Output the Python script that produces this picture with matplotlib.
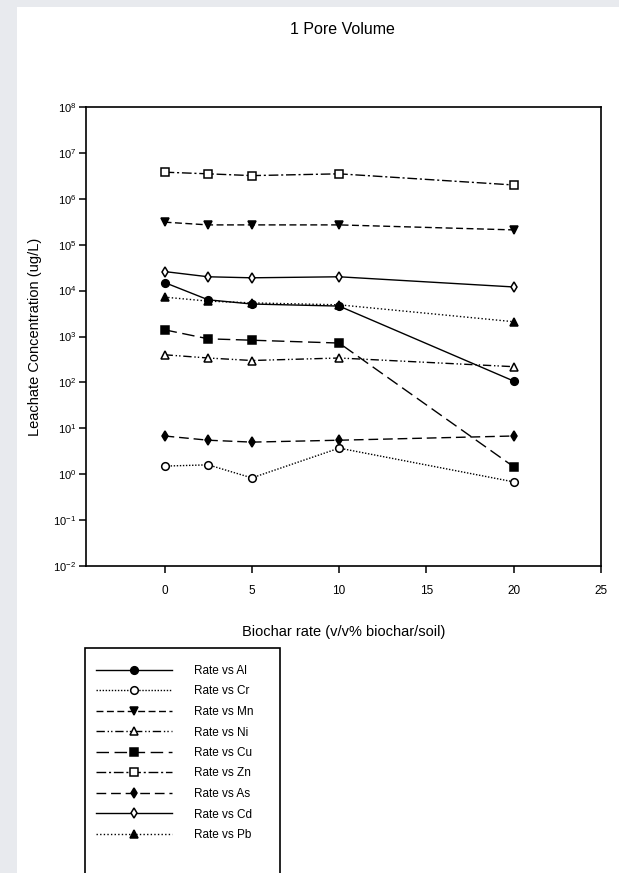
import matplotlib
matplotlib.use("Agg")
import matplotlib.pyplot as plt
from matplotlib.patches import Rectangle
from matplotlib.ticker import LogLocator, NullLocator, FixedLocator

plt.rcParams['font.family'] = ['Liberation Sans', 'DejaVu Sans']
plt.rcParams['mathtext.fontset'] = 'custom'
plt.rcParams['mathtext.rm'] = 'Liberation Sans'

rate = [0, 2.5, 5, 10, 20]
Al = [1.5e4, 6.3e3, 5.1e3, 4.6e3, 1.07e2]
Cr = [1.5, 1.6, 0.83, 3.7, 0.68]
Mn = [3.1e5, 2.7e5, 2.7e5, 2.7e5, 2.1e5]
Ni = [4.0e2, 3.4e2, 3.0e2, 3.4e2, 2.2e2]
Cu = [1.4e3, 8.9e2, 8.3e2, 7.2e2, 1.45]
Zn = [3.8e6, 3.5e6, 3.2e6, 3.5e6, 2.0e6]
As = [6.8, 5.5, 5.0, 5.5, 6.8]
Cd = [2.6e4, 2.0e4, 1.9e4, 2.0e4, 1.2e4]
Pb = [7.2e3, 5.9e3, 5.4e3, 4.9e3, 2.1e3]

labels = ['Rate vs Al', 'Rate vs Cr', 'Rate vs Mn', 'Rate vs Ni', 'Rate vs Cu',
          'Rate vs Zn', 'Rate vs As', 'Rate vs Cd', 'Rate vs Pb']
series = [Al, Cr, Mn, Ni, Cu, Zn, As, Cd, Pb]

styles = [
    dict(ls='-', marker='o', mfc='black'),
    dict(ls=(0, (1, 1.2)), marker='o', mfc='white'),
    dict(ls=(0, (5, 2.5)), marker='v', mfc='black'),
    dict(ls=(0, (6, 2, 1, 1.5, 1, 2)), marker='^', mfc='white'),
    dict(ls=(0, (9, 4)), marker='s', mfc='black'),
    dict(ls=(0, (7, 2, 1.5, 2)), marker='s', mfc='white'),
    dict(ls=(0, (7, 3.5)), marker='d', mfc='black'),
    dict(ls='-', marker='d', mfc='white'),
    dict(ls=(0, (1, 1.6)), marker='^', mfc='black'),
]

fig = plt.figure(figsize=(6.19, 8.73), dpi=100)
fig.patch.set_facecolor('#e8eaee')
fig.patches.append(Rectangle((17 / 619, 0), 1, 1 - 7 / 873, transform=fig.transFigure,
                             facecolor='white', edgecolor='none', zorder=-10))

ax = fig.add_axes([86 / 619, 1 - 566 / 873, (601 - 86) / 619, (566 - 107) / 873])
ax.set_facecolor('white')

handles = []
for y, lab, st in zip(series, labels, styles):
    h, = ax.plot(rate, y, color='black', lw=1.0, linestyle=st['ls'], marker=st['marker'],
                 mfc=st['mfc'], mec='black', mew=1.1, markersize=5.5, label=lab)
    handles.append(h)

ax.set_yscale('log')
ax.set_ylim(1e-2, 1e8)
ax.set_xlim(-4.5, 25)
ax.yaxis.set_major_locator(LogLocator(base=10, numticks=20))
ax.yaxis.set_minor_locator(NullLocator())
ax.xaxis.set_major_locator(FixedLocator([0, 5, 10, 15, 20, 25]))

for s in ax.spines.values():
    s.set_linewidth(1.2)
ax.tick_params(axis='both', direction='out', length=5, width=1.1, labelsize=8.5)
ax.tick_params(axis='x', pad=9)
ax.tick_params(axis='y', pad=2, labelsize=8)

ax.set_xlabel('Biochar rate (v/v% biochar/soil)', fontsize=10.5, labelpad=20)
ax.set_ylabel('Leachate Concentration (ug/L)', fontsize=10.5, labelpad=8)
fig.text(342 / 619, 1 - 30 / 873, '1 Pore Volume', ha='center', va='center', fontsize=11.5)

fig.patches.append(Rectangle((85 / 619, -0.05), (280 - 85) / 619, 0.05 + 1 - 648 / 873,
                             transform=fig.transFigure, facecolor='white',
                             edgecolor='black', lw=1.2, zorder=5))
leg = fig.legend(handles=handles, labels=labels, loc='upper left',
                 bbox_to_anchor=(96 / 619, 1 - 665 / 873), fontsize=8.5,
                 frameon=False, handlelength=6.4, handletextpad=1.9,
                 labelspacing=0.72, borderpad=0, borderaxespad=0)
leg.set_zorder(6)

fig.savefig('out.png', dpi=100, facecolor=fig.get_facecolor())
